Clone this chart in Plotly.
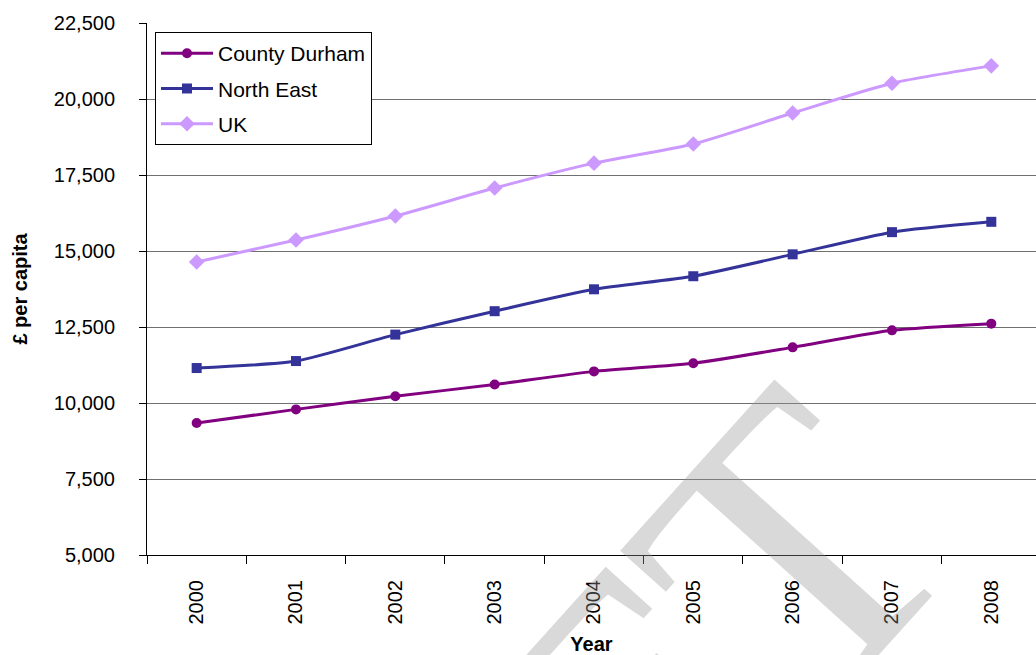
import plotly.graph_objects as go

# GVA per head, £ per capita
years = ["2000", "2001", "2002", "2003", "2004", "2005", "2006", "2007", "2008"]
county_durham = [9340, 9790, 10220, 10610, 11040, 11310, 11830, 12390, 12610]
north_east = [11150, 11380, 12250, 13020, 13740, 14170, 14890, 15620, 15960]
uk = [14640, 15360, 16150, 17070, 17890, 18520, 19540, 20520, 21090]

y_ticks = [5000, 7500, 10000, 12500, 15000, 17500, 20000, 22500]

FONT = "Liberation Sans, Arial, sans-serif"

series = [
    ("County Durham", county_durham, "#800080", "circle", 10),
    ("North East", north_east, "#333399", "square", 10),
    ("UK", uk, "#CC99FF", "diamond", 12),
]

fig = go.Figure()
for name, vals, color, symbol, msize in series:
    fig.add_trace(go.Scatter(
        x=years, y=vals, name=name, mode="lines+markers", legendgroup=name,
        line=dict(color=color, width=3, shape="spline", smoothing=0.6),
        marker=dict(color=color, symbol=symbol, size=msize),
    ))

# faint watermark across the lower right
fig.add_annotation(
    text="DRAFT", xref="paper", yref="paper", x=0.323, y=-0.737,
    xanchor="center", yanchor="middle", showarrow=False, textangle=-48,
    font=dict(family="Liberation Serif, Times New Roman, serif", size=400,
              color="rgba(150,150,150,0.36)"),
)

fig.update_layout(
    width=1036, height=655,
    margin=dict(l=147, r=0, t=23, b=100, pad=0),
    paper_bgcolor="white", plot_bgcolor="white",
    font=dict(family=FONT, size=20, color="black"),
    showlegend=True,
    legend=dict(
        x=0.009, y=0.983, xanchor="left", yanchor="top",
        bgcolor="white", bordercolor="black", borderwidth=1,
        font=dict(family=FONT, size=21, color="black"),
        itemwidth=52, tracegroupgap=5,
    ),
    xaxis=dict(
        type="category", range=[-0.5, 8.45], tickson="boundaries",
        ticks="outside", ticklen=8, tickcolor="black", tickangle=-90,
        ticklabelstandoff=16,
        showgrid=False, showline=True, linecolor="black", linewidth=1,
        tickfont=dict(family=FONT, size=20, color="black"),
        title=dict(text="<b>Year</b>", standoff=13,
                   font=dict(family=FONT, size=20, color="black")),
    ),
    yaxis=dict(
        range=[5000, 22500], tickvals=y_ticks, tickformat=",",
        ticks="outside", ticklen=7, tickcolor="black",
        showgrid=True, gridcolor="#707070", gridwidth=1,
        showline=True, linecolor="black", linewidth=1, zeroline=False,
        ticklabelstandoff=20,
        tickfont=dict(family=FONT, size=20, color="black"),
        title=dict(text="<b>£ per capita</b>", standoff=20,
                   font=dict(family=FONT, size=20, color="black")),
    ),
)

fig.write_html("out.html")
